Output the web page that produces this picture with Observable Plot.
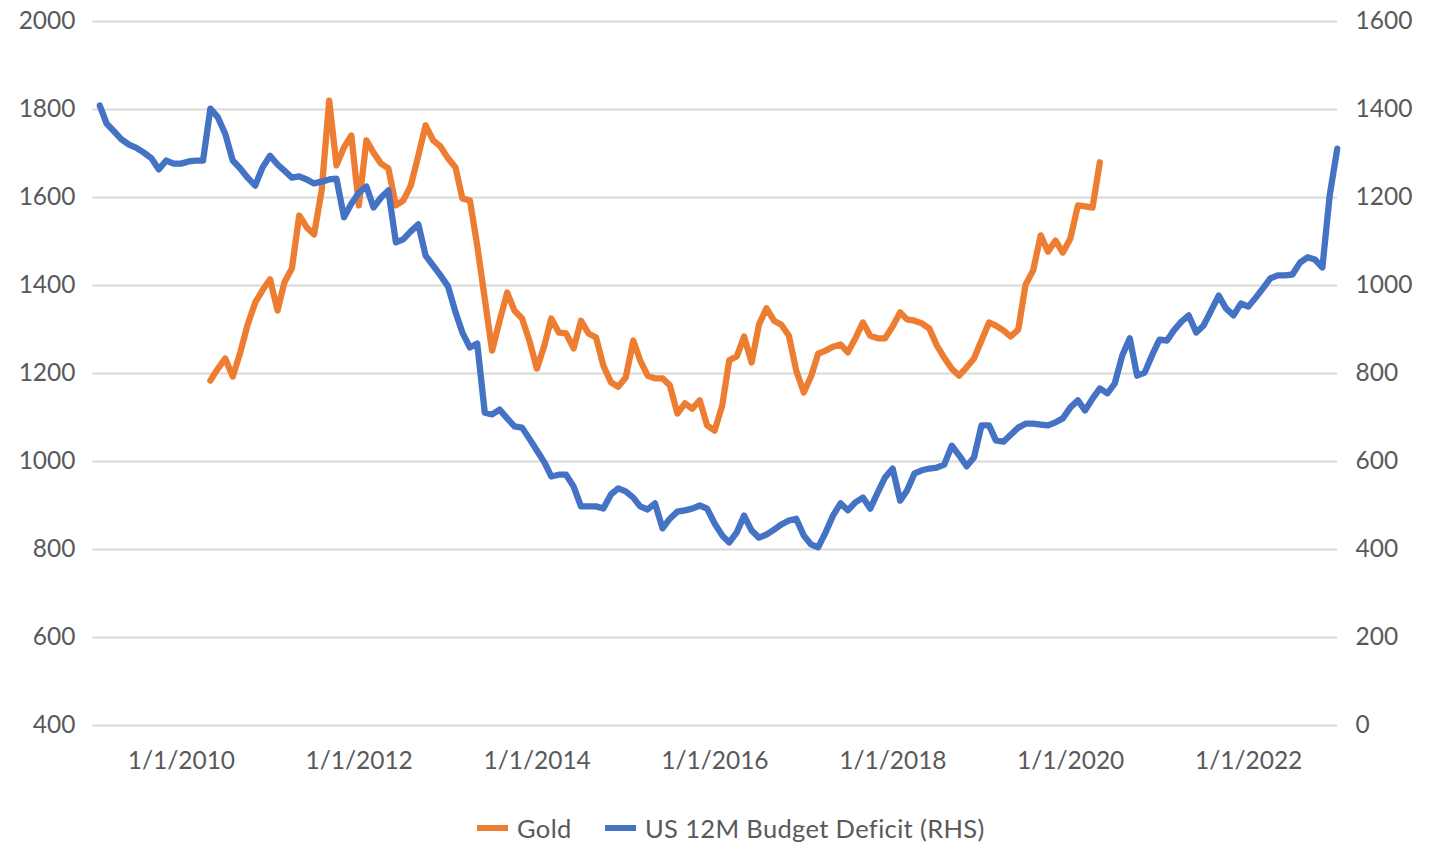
<!DOCTYPE html>
<html><head><meta charset="utf-8">
<script src="https://cdn.jsdelivr.net/npm/d3@7"></script>
<script src="https://cdn.jsdelivr.net/npm/@observablehq/plot@0.6"></script>
<style>
html,body{margin:0;padding:0;background:#fff;}
body{font-family:Lato,"Open Sans",sans-serif;}
#legend{position:relative;margin-top:20px;height:36px;font-size:25.5px;letter-spacing:0.35px;color:#595959;white-space:nowrap;}
.sw{display:inline-block;width:31px;height:6px;margin-right:9px;}
.item{position:absolute;top:0;height:36px;display:flex;align-items:center;}
</style></head><body>
<div id="chart"></div>
<div id="legend"></div>
<script>
// Series names
const goldName = "Gold";
const deficitName = "US 12M Budget Deficit (RHS)";
// Monthly series (month-end), first months
const goldStart = [2010, 3];     // April 2010
const deficitStart = [2009, 0];  // January 2009
// Gold price (left axis)
const goldValues = [1184,1211,1234,1193,1248,1311,1361,1389,1414,1343,1407,1439,1559,1532,1516,1616,1820,1673,1714,1741,1582,1730,1702,1677,1666,1582,1593,1627,1695,1764,1730,1716,1689,1668,1598,1593,1491,1370,1252,1320,1384,1343,1325,1275,1211,1264,1325,1293,1291,1257,1320,1291,1282,1218,1180,1170,1191,1275,1230,1195,1189,1189,1173,1109,1132,1120,1139,1082,1070,1127,1230,1239,1284,1225,1311,1348,1320,1311,1286,1207,1157,1195,1245,1252,1261,1266,1248,1280,1316,1286,1280,1280,1307,1339,1323,1320,1314,1302,1264,1236,1211,1195,1214,1234,1275,1316,1309,1298,1284,1300,1402,1434,1514,1477,1502,1475,1507,1582,1580,1577,1680];
// US 12M budget deficit (right axis)
const deficitValues = [1409,1368,1350,1332,1320,1313,1302,1289,1264,1284,1277,1277,1282,1284,1284,1402,1382,1345,1284,1266,1245,1227,1268,1295,1275,1261,1245,1248,1241,1232,1236,1241,1243,1155,1186,1211,1225,1177,1200,1216,1098,1105,1123,1139,1068,1045,1023,998,939,893,859,868,711,707,718,698,680,677,652,625,598,566,570,570,543,498,498,498,493,525,539,532,518,498,491,505,448,470,486,489,493,500,493,459,432,416,439,477,443,427,434,445,457,466,470,432,411,405,439,477,505,489,507,518,493,530,564,584,511,534,573,580,584,586,593,636,614,589,609,682,682,648,645,661,677,686,686,684,682,689,698,723,739,716,743,766,755,777,841,880,795,802,841,877,875,898,918,932,893,909,943,977,948,932,959,952,973,993,1016,1023,1023,1025,1052,1064,1059,1041,1205,1311];
// Axes
const leftTicks = [400,600,800,1000,1200,1400,1600,1800,2000];
const rightTicks = [0,200,400,600,800,1000,1200,1400,1600];
const xTickYears = [2010,2012,2014,2016,2018,2020,2022];
const xTickLabels = ["1/1/2010","1/1/2012","1/1/2014","1/1/2016","1/1/2018","1/1/2020","1/1/2022"];
const xDomainYears = [2009, 2023];
const colors = {gold: "#ED7D31", deficit: "#4472C4"};

const rightOffset = leftTicks[0] - rightTicks[0]; // right axis 0 aligns with left 400
const monthEnd = (start, i) => new Date(Date.UTC(start[0], start[1] + i + 1, 0));
const gold = goldValues.map((v, i) => ({date: monthEnd(goldStart, i), value: v}));
const deficit = deficitValues.map((v, i) => ({date: monthEnd(deficitStart, i), value: v + rightOffset}));
const xTicks = xTickYears.map(y => new Date(Date.UTC(y, 0, 1)));
const xLabelMap = new Map(xTicks.map((d, i) => [+d, xTickLabels[i]]));

const chart = Plot.plot({
  width: 1440, height: 790,
  marginLeft: 92, marginRight: 103, marginTop: 21, marginBottom: 65,
  style: {fontFamily: "Lato, 'Open Sans', sans-serif", fontSize: "24.5px", color: "#595959", background: "white"},
  x: {type: "utc", domain: xDomainYears.map(y => new Date(Date.UTC(y, 0, 1)))},
  y: {domain: [leftTicks[0], leftTicks[leftTicks.length - 1]]},
  marks: [
    Plot.gridY(leftTicks, {stroke: "#d9d9d9", strokeOpacity: 1, strokeWidth: 2}),
    Plot.axisY(leftTicks, {anchor: "left", tickSize: 0, tickPadding: 17, label: null, tickFormat: d => String(d), fill: "#595959"}),
    Plot.axisY(rightTicks.map(v => v + rightOffset), {anchor: "right", tickSize: 0, tickPadding: 18, label: null, tickFormat: d => String(d - rightOffset), fill: "#595959"}),
    Plot.axisX(xTicks, {anchor: "bottom", tickSize: 0, tickPadding: 26, label: null, tickFormat: d => xLabelMap.get(+d), fill: "#595959"}),
    Plot.line(gold, {x: "date", y: "value", stroke: colors.gold, strokeWidth: 6.3}),
    Plot.line(deficit, {x: "date", y: "value", stroke: colors.deficit, strokeWidth: 6.3})
  ]
});
document.getElementById("chart").appendChild(chart);

const legend = document.getElementById("legend");
const legendLeft = [477, 605];
[[goldName, colors.gold], [deficitName, colors.deficit]].forEach(([name, c], i) => {
  const it = document.createElement("div");
  it.className = "item";
  it.style.left = legendLeft[i] + "px";
  const sw = document.createElement("span");
  sw.className = "sw";
  sw.style.background = c;
  const t = document.createElement("span");
  t.textContent = name;
  it.appendChild(sw); it.appendChild(t);
  legend.appendChild(it);
});
</script>
</body></html>
